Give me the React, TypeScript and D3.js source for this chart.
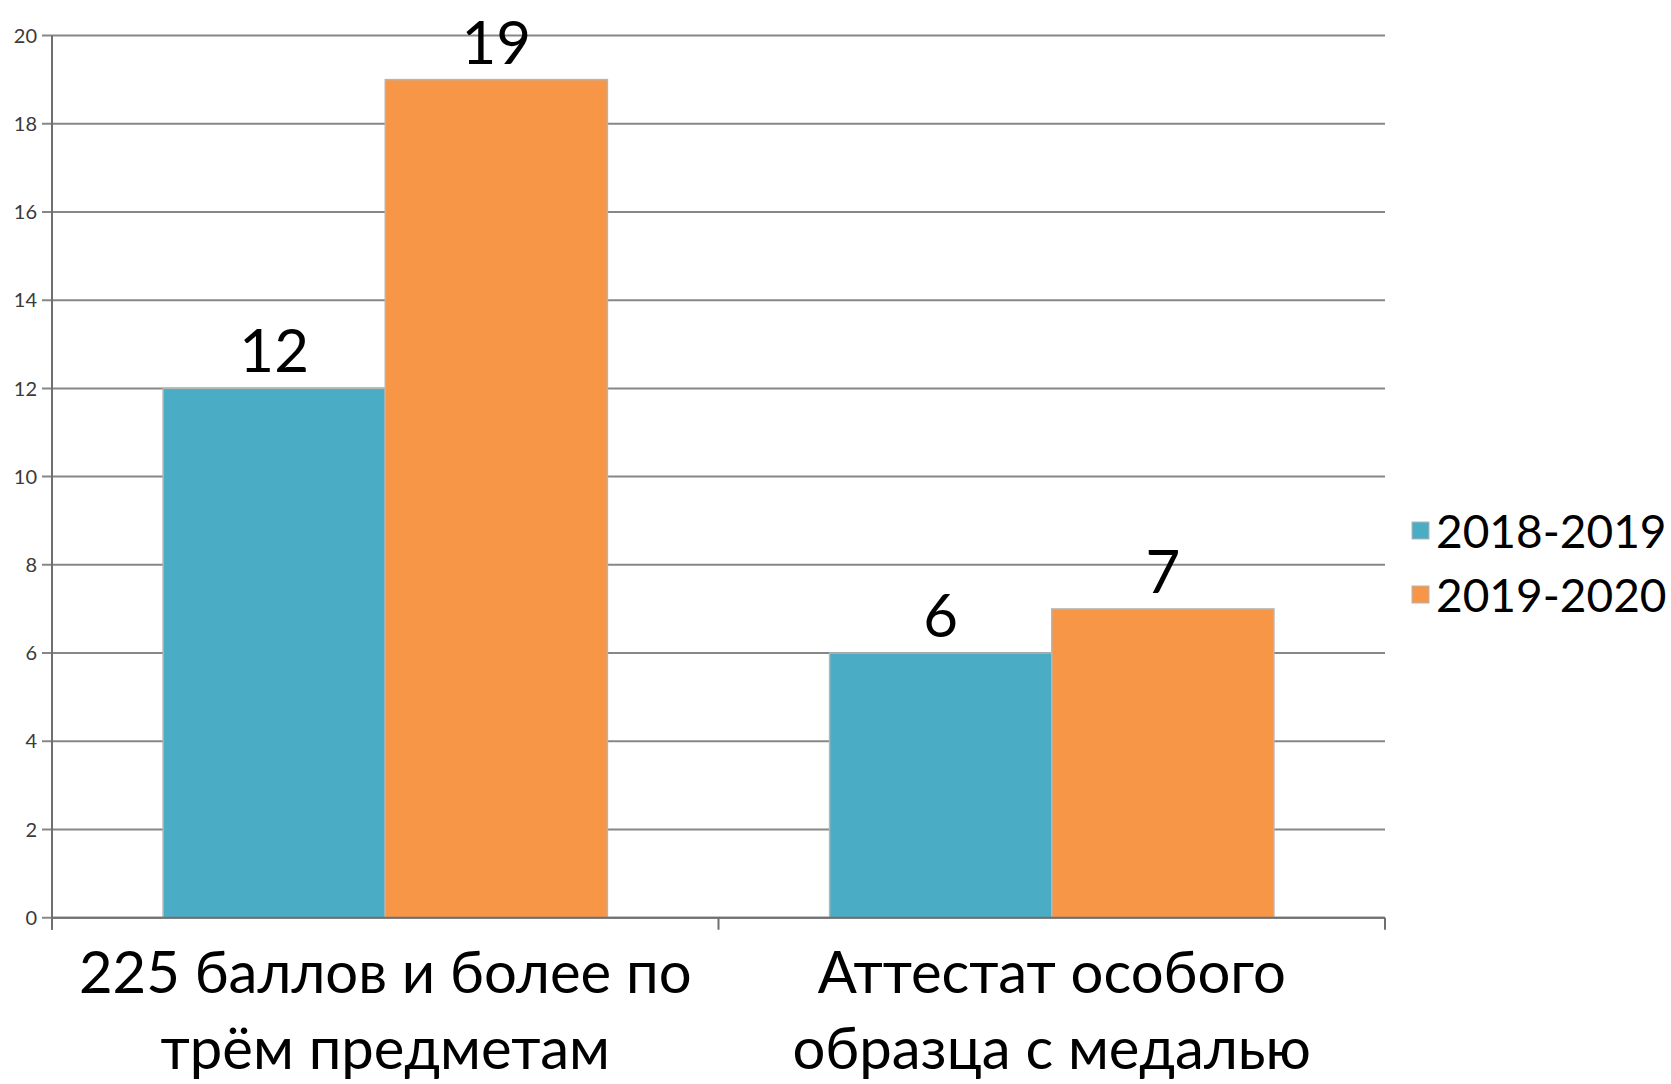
import React, { useRef, useEffect } from 'react';
import * as d3 from 'd3';

// categories (two-line labels) and series
const categories = ['225 баллов и более по трём предметам', 'Аттестат особого образца с медалью'];
const categoryLines = [
  ['225 баллов и более по', 'трём предметам'],
  ['Аттестат особого', 'образца с медалью'],
];
const seriesNames = ['2018-2019', '2019-2020'];
const values2018 = [12, 6];
const values2019 = [19, 7];
const yTicks = [0, 2, 4, 6, 8, 10, 12, 14, 16, 18, 20];
const colors = ['#4bacc6', '#f79646'];

const W = 1671;
const H = 1084;
const FONT = 'Lato, "Open Sans", sans-serif';

const App = () => {
  const svgRef = useRef<SVGSVGElement | null>(null);

  useEffect(() => {
    if (!svgRef.current) return;
    const svg = d3.select(svgRef.current);
    svg.selectAll('*').remove();

    const plot = { left: 52, right: 1385, top: 35.5, bottom: 917.7 };

    const x = d3.scaleBand<string>()
      .domain(categories)
      .range([plot.left, plot.right])
      .paddingInner(0)
      .paddingOuter(0);

    const y = d3.scaleLinear().domain([0, 20]).range([plot.bottom, plot.top]);

    // inner scale: bars take 2/3 of each band (gap width 100%)
    const xs = d3.scaleBand<string>()
      .domain(seriesNames)
      .range([x.bandwidth() / 6, x.bandwidth() * 5 / 6]);

    // gridlines
    svg.append('g')
      .selectAll('line')
      .data(yTicks)
      .enter().append('line')
      .attr('x1', plot.left - 10)
      .attr('x2', plot.right)
      .attr('y1', d => y(d))
      .attr('y2', d => y(d))
      .attr('stroke', '#878787')
      .attr('stroke-width', 2);

    // tick labels
    svg.append('g')
      .selectAll('text')
      .data(yTicks)
      .enter().append('text')
      .attr('x', plot.left - 15)
      .attr('y', d => y(d))
      .attr('dy', '0.36em')
      .attr('text-anchor', 'end')
      .attr('font-family', FONT)
      .attr('font-size', 20)
      .attr('fill', '#3a3a3a')
      .text(d => d);

    // bars
    const series = [values2018, values2019];
    series.forEach((vals, si) => {
      svg.append('g')
        .selectAll('rect')
        .data(categories)
        .enter().append('rect')
        .attr('x', c => (x(c) ?? 0) + (xs(seriesNames[si]) ?? 0))
        .attr('y', (c, i) => y(vals[i]))
        .attr('width', xs.bandwidth())
        .attr('height', (c, i) => plot.bottom - y(vals[i]))
        .attr('fill', colors[si])
        .attr('stroke', '#b5b5b5')
        .attr('stroke-width', 1.5);

      svg.append('g')
        .selectAll('text')
        .data(categories)
        .enter().append('text')
        .attr('x', c => (x(c) ?? 0) + (xs(seriesNames[si]) ?? 0) + xs.bandwidth() / 2)
        .attr('y', (c, i) => y(vals[i]) - 16)
        .attr('text-anchor', 'middle')
        .attr('font-family', FONT)
        .attr('font-size', 60)
        .attr('fill', '#000')
        .text((c, i) => vals[i]);
    });

    // axes lines
    svg.append('line')
      .attr('x1', plot.left).attr('x2', plot.left)
      .attr('y1', plot.top).attr('y2', plot.bottom + 12)
      .attr('stroke', '#6f6f6f').attr('stroke-width', 2);
    svg.append('line')
      .attr('x1', plot.left).attr('x2', plot.right)
      .attr('y1', plot.bottom).attr('y2', plot.bottom)
      .attr('stroke', '#6f6f6f').attr('stroke-width', 2);
    const boundaries = [plot.left, ...categories.map(c => (x(c) ?? 0) + x.bandwidth())];
    svg.append('g')
      .selectAll('line')
      .data(boundaries)
      .enter().append('line')
      .attr('x1', d => d).attr('x2', d => d)
      .attr('y1', plot.bottom).attr('y2', plot.bottom + 12)
      .attr('stroke', '#6f6f6f').attr('stroke-width', 2);

    // category labels
    categories.forEach((c, i) => {
      const cx = (x(c) ?? 0) + x.bandwidth() / 2;
      categoryLines[i].forEach((line, li) => {
        svg.append('text')
          .attr('x', cx)
          .attr('y', 993 + li * 76)
          .attr('text-anchor', 'middle')
          .attr('font-family', FONT)
          .attr('font-size', 58)
          .attr('fill', '#000')
          .text(line);
      });
    });

    // legend
    const legend = svg.append('g');
    seriesNames.forEach((name, i) => {
      const by = 548 + i * 64;
      legend.append('rect')
        .attr('x', 1412)
        .attr('y', by - 26)
        .attr('width', 17)
        .attr('height', 17)
        .attr('fill', colors[i])
        .attr('stroke', '#b5b5b5')
        .attr('stroke-width', 1);
      legend.append('text')
        .attr('x', 1436)
        .attr('y', by)
        .attr('font-family', FONT)
        .attr('font-size', 46)
        .attr('fill', '#000')
        .text(name);
    });
  }, []);

  return (
    <svg
      ref={svgRef}
      width={W}
      height={H}
      style={{ position: 'absolute', left: 0, top: 0, background: '#fff' }}
    />
  );
};

export default App;
